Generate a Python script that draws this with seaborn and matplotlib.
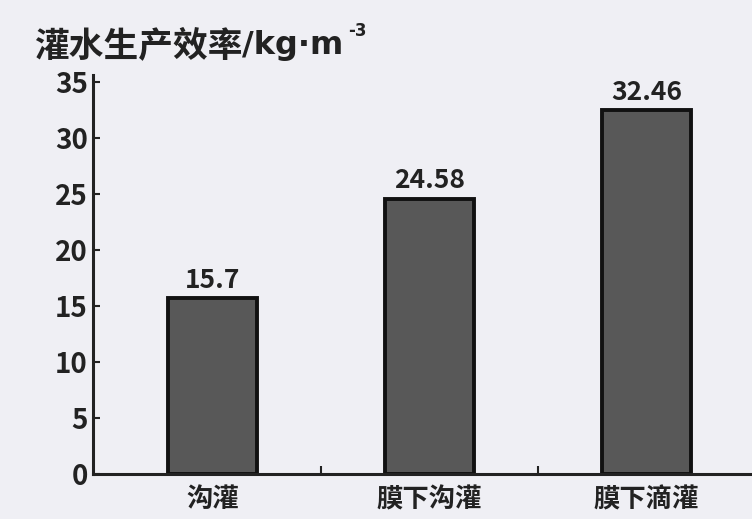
import matplotlib
matplotlib.use('Agg')

import pandas as pd
import matplotlib.pyplot as plt
import seaborn as sns

categories = ['沟灌', '膜下沟灌', '膜下滴灌']
efficiency = [15.7, 24.58, 32.46]
value_labels = ['15.7', '24.58', '32.46']
y_ticks = [0, 5, 10, 15, 20, 25, 30, 35]

df = pd.DataFrame({'method': categories, 'eff': efficiency})

sns.set_style('ticks')
plt.rcParams['font.family'] = ['Noto Sans CJK SC', 'DejaVu Sans']
plt.rcParams['font.weight'] = 'bold'

bg = '#efeff4'
fig = plt.figure(figsize=(7.52, 5.19), dpi=100, facecolor=bg)
ax = fig.add_axes([0.124, 0.087, 0.88, 0.768])
ax.set_facecolor(bg)

sns.barplot(data=df, x='method', y='eff', color='#585858', width=0.41,
            edgecolor='#111111', linewidth=2.8, saturation=1, ax=ax)

for i, (v, t) in enumerate(zip(efficiency, value_labels)):
    ax.text(i, v + 0.4, t, ha='center', va='bottom', fontsize=19,
            fontweight='bold', color='#222222')

ax.set_xlim(-0.55, 2.49)
ax.set_ylim(0, 35.6)
ax.set_yticks(y_ticks)
ax.set_yticklabels([str(t) for t in y_ticks], fontsize=20, fontweight='bold', color='#222222')
ax.set_xticks(range(len(categories)))
ax.set_xticklabels(categories, fontsize=19, fontweight='bold', color='#222222')
ax.set_xticks([0.5, 1.5, 2.5], minor=True)
ax.tick_params(axis='x', which='major', length=0, pad=9)
ax.tick_params(axis='x', which='minor', direction='in', length=6, width=1.5, color='#222222')
ax.tick_params(axis='y', direction='in', length=5, width=1.5, color='#222222', pad=4)
ax.set_xlabel('')
ax.set_ylabel('')

for s in ['top', 'right']:
    ax.spines[s].set_visible(False)
for s in ['left', 'bottom']:
    ax.spines[s].set_linewidth(2.2)
    ax.spines[s].set_color('#222222')

# title in pieces: CJK part, then the unit in DejaVu (narrow middle dot)
t1 = fig.text(0.045, 0.913, '灌水生产效率', fontsize=25, fontweight='bold',
              color='#222222', va='center', ha='left')
fig.canvas.draw()
bb = t1.get_window_extent()
t2 = fig.text(bb.x1 / fig.bbox.width, 0.913, '/kg·m', fontsize=23, fontweight='bold',
              color='#222222', va='center', ha='left', family='DejaVu Sans')
fig.canvas.draw()
bb2 = t2.get_window_extent()
fig.text(bb2.x1 / fig.bbox.width + 0.006, 0.94, '-3', fontsize=12, fontweight='bold',
         color='#222222', va='center', ha='left', family='DejaVu Sans')

fig.savefig('out.png', dpi=100, facecolor=bg)
